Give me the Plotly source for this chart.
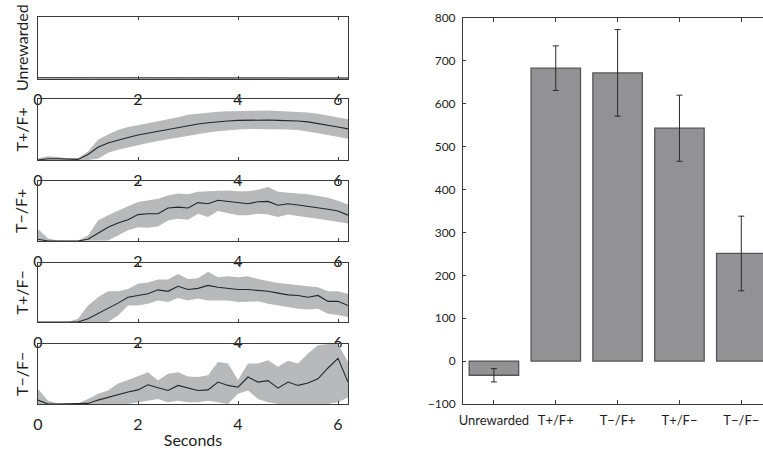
import plotly.graph_objects as go

# ---------------- data ----------------
t = [0.0, 0.2, 0.4, 0.6, 0.8, 1.0, 1.2, 1.4, 1.6, 1.8, 2.0, 2.2, 2.4, 2.6, 2.8, 3.0,
     3.2, 3.4, 3.6, 3.8, 4.0, 4.2, 4.4, 4.6, 4.8, 5.0, 5.2, 5.4, 5.6, 5.8, 6.0, 6.2]

unrew_mean = [2, 2, 2, 1.5, 1.5, 1.5, 1.5, 1.5, 1.5, 1.5, 2, 2, 2, 2, 2.5, 2.5,
              2.5, 2.5, 2.5, 2.5, 2.5, 2, 2, 2, 1.5, 1.5, 1.5, 1.5, 1.5, 1.5, 1.5, 1.5]
unrew_up = [3, 3, 3, 2.5, 2.5, 2.5, 2.5, 2.5, 2.5, 2.5, 3, 3, 3, 3, 3.5, 3.5,
            3.5, 3.5, 3.5, 3.5, 3.5, 3, 3, 3, 2.5, 2.5, 2.5, 2.5, 2.5, 2.5, 2.5, 2.5]
unrew_lo = [1, 1, 1, 0.5, 0.5, 0.5, 0.5, 0.5, 0.5, 0.5, 1, 1, 1, 1, 1.5, 1.5,
            1.5, 1.5, 1.5, 1.5, 1.5, 1, 1, 1, 0.5, 0.5, 0.5, 0.5, 0.5, 0.5, 0.5, 0.5]

tpfp_mean = [0, 2, 2, 1, 1, 9, 21, 28, 33, 37, 41, 44, 47, 50, 54, 57,
             59, 61, 63, 64, 65, 65.5, 65.5, 65.5, 65, 65, 64, 62.5, 60, 57, 54, 51]
tpfp_up = [3, 6, 5, 3, 3, 14, 33, 42, 49, 54, 57, 60, 63, 67, 70, 74,
           76, 78, 79, 80, 80.5, 81, 81, 81, 80.5, 80, 79, 78, 76, 73, 70, 67]
tpfp_lo = [0, 0, 0, 0, 0, 0, 2, 12, 17, 21, 25, 28, 31, 34, 37, 40,
           42, 45, 47, 49, 50, 51, 51, 51, 50.5, 50, 49, 47, 44, 41, 38, 35]

tmfp_mean = [3, 0, 0, 0, 0, 3, 13, 23, 30, 35.5, 44, 45.5, 45.5, 55, 56.5, 55,
             64, 62, 68, 66, 63, 62, 65.5, 66, 59.5, 62, 60, 58, 55.5, 53, 50, 43]
tmfp_up = [20, 4, 1, 1, 1, 9, 34, 43, 51, 58, 65, 68, 70.5, 76, 79, 78,
           82, 83, 84, 84, 83, 83, 85.5, 90, 82, 80, 79, 78, 74.5, 72, 67, 61]
tmfp_lo = [0, 0, 0, 0, 0, 0, 0, 1, 9, 18, 23, 22, 24, 34, 37, 35.5,
           45.5, 40, 50, 47, 43, 43, 45.5, 44, 40, 44, 41, 39, 37, 34, 31.5, 29]

tpfm_mean = [0, 0, 0, 0, 0, 5.5, 14, 22.5, 32, 42, 45, 48, 54.5, 52, 60.5, 55,
             57, 62, 59, 57, 55, 55, 53.5, 52, 49, 46, 45, 42, 45, 35, 35, 28]
tpfm_up = [0, 0, 0, 0, 5.5, 28, 42, 52, 52, 56, 65, 67, 72, 72, 81.5, 73,
           74, 85, 76, 77.5, 76, 77.5, 73, 70, 66, 64.5, 62, 60.5, 59, 52, 52, 48]
tpfm_lo = [0, 0, 0, 0, 0, 0, 0, 0, 11, 28, 28, 31, 36.5, 34, 40.5, 36.5,
           40, 36.5, 36.5, 36.5, 34, 34, 35, 31, 28, 25, 22.5, 21, 22.5, 14, 12, 8.5]

tmfm_mean = [6.5, 0, 0, 0, 0, 1, 6.5, 11, 16, 20, 23.5, 32, 27, 22.5, 31, 26.5,
             22.5, 23.5, 36.5, 31, 28, 45, 36.5, 39, 26.5, 36.5, 31, 35, 42, 60, 76, 36.5]
tmfm_up = [25, 5.5, 1, 1, 1, 8.5, 17, 22.5, 34, 40, 46, 53, 39, 50.5, 53, 46,
           45, 48, 70, 67.5, 40, 67.5, 67.5, 73, 62, 72, 67.5, 84, 98, 100, 100, 70]
tmfm_lo = [0, 0, 0, 0, 0, 0, 0, 0, 0, 0, 3, 5.5, 8.5, 3, 5.5, 3,
           3, 5.5, 3, 0, 17, 22.5, 8.5, 3, 0, 0, 0, 0, 0, 0, 3, 11]

panel_labels = ["Unrewarded", "T+/F+", "T\u2212/F+", "T+/F\u2212", "T\u2212/F\u2212"]
time_ticks = [0, 2, 4, 6]

bar_categories = ["Unrewarded", "T+/F+", "T\u2212/F+", "T+/F\u2212", "T\u2212/F\u2212"]
bar_positions = [1, 2, 3, 4, 5]
bar_values = [-33, 683, 672, 543, 251]
bar_errors = [15.5, 52, 101, 77, 87]
bar_yticks = [-100, 0, 100, 200, 300, 400, 500, 600, 700, 800]

# ---------------- styling ----------------
FONT = "Lato"
W, H = 763, 450
ML, MR, MT, MB = 38, 0, 17, 46
PW, PH = W - ML - MR, H - MT - MB

def xfrac(px):
    return (px - ML) / PW

def yfrac(py):
    return (H - MB - py) / PH

panel_px = [(17, 79), (99, 160), (181, 241), (263, 322), (344, 404)]
series = [
    (unrew_mean, unrew_up, unrew_lo),
    (tpfp_mean, tpfp_up, tpfp_lo),
    (tmfp_mean, tmfp_up, tmfp_lo),
    (tpfm_mean, tpfm_up, tpfm_lo),
    (tmfm_mean, tmfm_up, tmfm_lo),
]

band_col = "#b8b9bb"
line_col = "#262626"
axis_col = "#3a3a3a"
text_col = "#1e1e1e"

fig = go.Figure()
layout = {}
annotations = []

for i, ((m, up, lo), (ptop, pbot)) in enumerate(zip(series, panel_px)):
    k = "" if i == 0 else str(i + 1)
    xa, ya = "x" + k, "y" + k
    fig.add_trace(go.Scatter(x=t, y=lo, mode="lines", line=dict(width=0, color=band_col),
                             xaxis=xa, yaxis=ya, showlegend=False, hoverinfo="skip"))
    fig.add_trace(go.Scatter(x=t, y=up, mode="lines", line=dict(width=0, color=band_col),
                             fill="tonexty", fillcolor=band_col,
                             xaxis=xa, yaxis=ya, showlegend=False, hoverinfo="skip"))
    fig.add_trace(go.Scatter(x=t, y=m, mode="lines", line=dict(width=1.1, color=line_col),
                             xaxis=xa, yaxis=ya, showlegend=False))
    layout["xaxis" + k] = dict(
        domain=[xfrac(38), xfrac(348)], range=[0, 6.2], anchor=ya,
        tickvals=time_ticks, ticks="inside", ticklen=3, tickcolor=axis_col,
        showline=True, linecolor=axis_col, linewidth=1, mirror="ticks",
        showgrid=False, zeroline=False, ticklabelstandoff=6,
        tickfont=dict(family=FONT, size=16, color=text_col),
    )
    layout["yaxis" + k] = dict(
        domain=[yfrac(pbot), yfrac(ptop)], range=[0, 100], anchor=xa,
        showticklabels=False, ticks="", showline=True, linecolor=axis_col,
        linewidth=1, mirror=True, showgrid=False, zeroline=False,
    )
    annotations.append(dict(
        text=panel_labels[i], xref="paper", yref="paper",
        x=xfrac(21), y=yfrac((ptop + pbot) / 2), xanchor="center", yanchor="middle",
        textangle=-90, showarrow=False, font=dict(family=FONT, size=16, color=text_col),
    ))

layout["xaxis5"]["title"] = dict(text="Seconds", font=dict(family=FONT, size=16, color=text_col),
                                 standoff=2)

# bar chart
fig.add_trace(go.Bar(
    x=bar_positions, y=bar_values, width=0.8,
    marker=dict(color="#929295", line=dict(color="#555557", width=1.3)),
    error_y=dict(type="data", array=bar_errors, color="#2a2a2a", thickness=1, width=3),
    xaxis="x6", yaxis="y6", showlegend=False,
))
layout["xaxis6"] = dict(
    domain=[xfrac(463), 1], range=[0.5, 5.351], anchor="y6",
    tickvals=bar_positions, ticktext=bar_categories,
    ticks="inside", ticklen=4, tickcolor=axis_col, mirror="ticks",
    showline=True, linecolor=axis_col, linewidth=1, showgrid=False, zeroline=False,
    ticklabelstandoff=4, tickfont=dict(family=FONT, size=13, color=text_col),
)
layout["yaxis6"] = dict(
    domain=[yfrac(404), yfrac(18)], range=[-100, 800], anchor="x6",
    tickvals=bar_yticks, ticks="inside", ticklen=3, tickcolor=axis_col,
    showline=True, linecolor=axis_col, linewidth=1, showgrid=False, zeroline=False,
    ticklabelstandoff=4, tickfont=dict(family=FONT, size=12, color=text_col),
)

fig.update_layout(
    width=W, height=H, margin=dict(l=ML, r=MR, t=MT, b=MB, autoexpand=False),
    paper_bgcolor="white", plot_bgcolor="white", annotations=annotations,
    bargap=0.2, **layout,
)

fig.write_html("out.html")
